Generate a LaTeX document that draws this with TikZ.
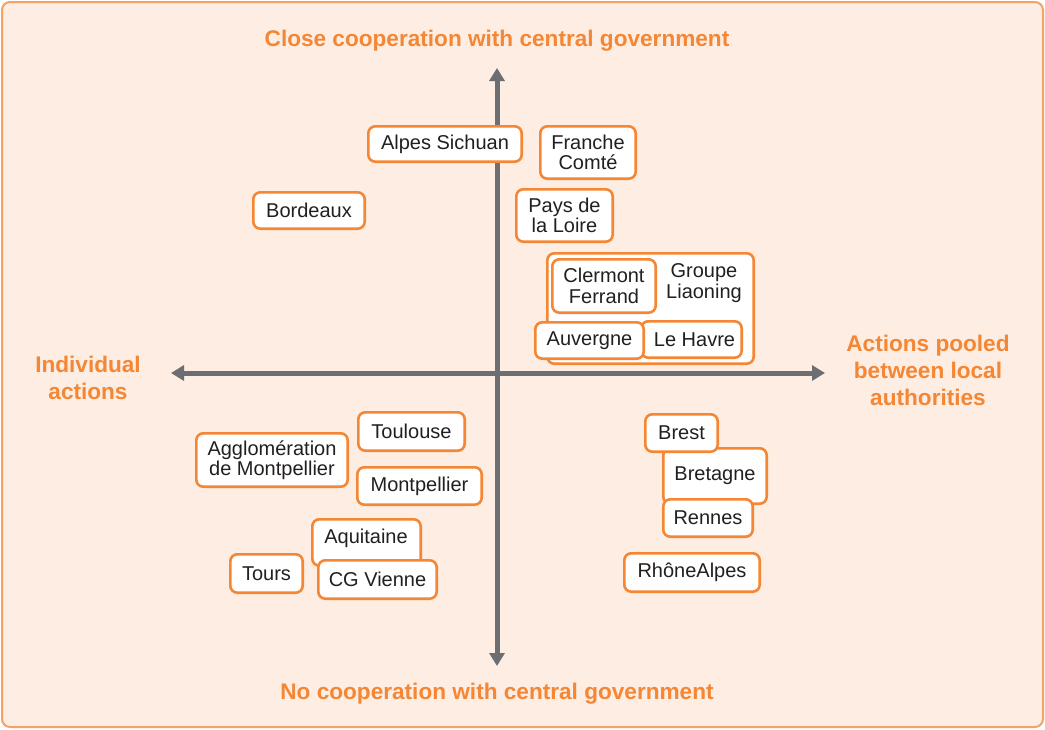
\documentclass[tikz,border=0pt]{standalone}
\usepackage{fontspec}
\setmainfont{Liberation Sans}
\usetikzlibrary{arrows.meta}
\definecolor{bgpeach}{HTML}{FDEDE2}
\definecolor{frameor}{HTML}{F5A264}
\definecolor{boxor}{HTML}{F58634}
\definecolor{titleor}{HTML}{F58634}
\definecolor{axisgray}{HTML}{6D6E71}
\definecolor{txt}{HTML}{231F20}
\newcommand\bx[6]{\node[box, minimum width={#4-#2-2.6}, minimum height={#5-#3-2.6}] (#1) at ({(#2+#4)/2},{(#3+#5)/2+1}) {#6};}
\begin{document}
\begin{tikzpicture}[x=1pt,y=-1pt,
 box/.style={draw=boxor, line width=2.6pt, fill=white, rounded corners=7pt, inner sep=0pt, align=center, text=txt, font=\fontsize{20}{20.5}\selectfont},
 lbl/.style={inner sep=0pt, align=center, text=txt, font=\fontsize{20}{20.5}\selectfont},
 title/.style={text=titleor, font=\fontsize{22.6}{27}\selectfont\bfseries, align=center, inner sep=0pt},
 axis/.style={draw=axisgray, line width=5pt, -{Triangle[length=13pt,width=15pt]}}]
\useasboundingbox (0,0) rectangle (1045,729);
\draw[frameor, fill=bgpeach, line width=2pt, rounded corners=8pt] (2,2) rectangle (1043,727);

% axes
\coordinate (c) at (497,373);
\coordinate (vtop) at (497,68);
\coordinate (vbot) at (497,666);
\coordinate (hl) at (171,373);
\coordinate (hr) at (825,373);
\draw[axis] (c) -- (vtop);
\draw[axis] (c) -- (vbot);
\draw[axis] (c) -- (hl);
\draw[axis] (c) -- (hr);

% titles
\node[title] (ttop) at (497,41) {Close cooperation with central government};
\node[title] (tbot) at (497,694) {No cooperation with central government};
\node[title] (tleft) at (88,378) {Individual\\actions};
\node[title] (tright) at (928,370) {Actions pooled\\between local\\authorities};

% upper boxes
\bx{alpes}{367}{124}{523}{162}{Alpes Sichuan}
\bx{franche}{539}{124}{637}{179}{Franche\\Comté}
\bx{bordeaux}{252}{190}{366}{229}{Bordeaux}
\bx{pays}{515}{187}{614}{242}{Pays de\\la Loire}

% group
\bx{groupe}{546}{251}{755}{364}{}
\node[lbl] (groupetxt) at (704,283) {Groupe\\Liaoning};
\bx{clermont}{551}{257}{657}{313}{Clermont\\Ferrand}
\bx{havre}{640}{319}{743}{358}{\hspace*{6pt}Le Havre}
\bx{auvergne}{534}{320}{645}{359}{Auvergne}

% lower left
\bx{toulouse}{357}{410}{466}{451}{Toulouse}
\bx{agglo}{195}{431}{349}{487}{Agglomération\\de Montpellier}
\bx{montp}{356}{465}{483}{505}{Montpellier}
\bx{aquitaine}{311}{517}{422}{566}{}
\node[lbl] (aquitainetxt) at (366,538) {Aquitaine};
\bx{vienne}{317}{558}{438}{599}{CG Vienne}
\bx{tours}{229}{552}{304}{593}{Tours}

% lower right
\bx{bretagne}{662}{446}{768}{504}{Bretagne}
\bx{brest}{644}{412}{719}{452}{Brest}
\bx{rennes}{662}{497}{754}{537}{Rennes}
\bx{rhone}{623}{551}{761}{592}{RhôneAlpes}
\end{tikzpicture}
\end{document}
